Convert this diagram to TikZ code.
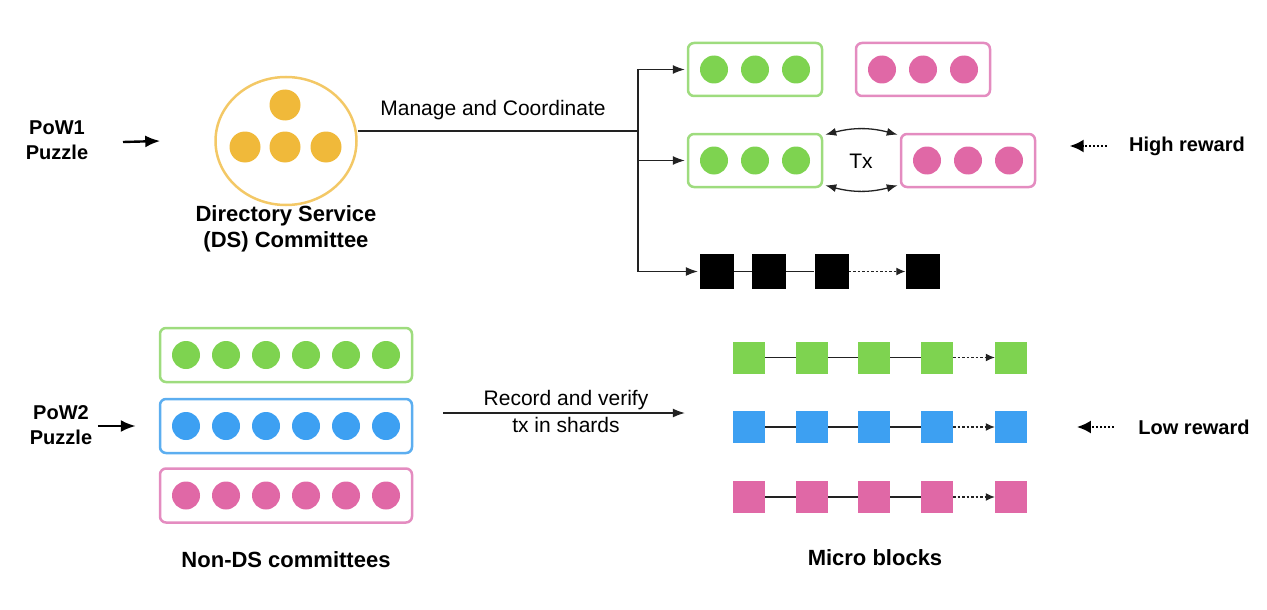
\documentclass[tikz,border=0pt]{standalone}
\usepackage{fontspec}
\setmainfont{Liberation Sans}
\usetikzlibrary{arrows.meta,calc,shapes.geometric}
\definecolor{cgreen}{HTML}{7ED350}
\definecolor{cgreenl}{HTML}{9EDC7E}
\definecolor{cpink}{HTML}{E068A6}
\definecolor{cpinkl}{HTML}{E48CC0}
\definecolor{cblue}{HTML}{3DA0F2}
\definecolor{cbluel}{HTML}{5CAEF0}
\definecolor{cyel}{HTML}{F0B93A}
\definecolor{cyell}{HTML}{F3C866}
\definecolor{cline}{HTML}{222222}
\begin{document}
\begin{tikzpicture}[x=1pt,y=-1pt,
  dot/.style={circle, minimum size=28pt, inner sep=0pt, fill=#1},
  bigdot/.style={circle, minimum size=31pt, inner sep=0pt, fill=cyel},
  cbox/.style={rounded corners=6pt, draw=#1, line width=2.5pt, minimum width=134pt, minimum height=53pt, inner sep=0pt},
  lbox/.style={rounded corners=6pt, draw=#1, line width=2.5pt, minimum width=252pt, minimum height=54pt, inner sep=0pt},
  blk/.style={minimum size=32pt, inner sep=0pt, fill=#1},
  bsq/.style={minimum width=34pt, minimum height=35pt, inner sep=0pt, fill=black},
  lbl/.style={font=\bfseries\fontsize{20}{25}\selectfont, align=center},
  blbl/.style={font=\bfseries\fontsize{22}{26}\selectfont, align=center},
  txt/.style={font=\fontsize{21}{27}\selectfont, align=center},
  arr/.style={-{Latex[length=12pt,width=9pt]}, line width=1.1pt, draw=cline},
  harr/.style={-{Latex[length=15pt,width=12pt]}, line width=2.4pt},
  link/.style={line width=1.2pt, draw=cline},
  darr/.style={-{Latex[length=9pt,width=8pt]}, line width=1.2pt, draw=cline, dash pattern=on 2.5pt off 2pt},
  rarr/.style={-{Latex[length=14pt,width=13pt]}, line width=2.2pt, dash pattern=on 2pt off 2pt},
  dbl/.style={{Latex[length=11pt,width=8pt]}-{Latex[length=11pt,width=8pt]}, line width=1.3pt, draw=cline}]
\useasboundingbox (0,0) rectangle (1267,610);

% ---- DS part ----
\node[lbl] (pow1) at (57,140) {PoW1\\Puzzle};
\node[ellipse, draw=cyell, line width=2.5pt, minimum width=141pt, minimum height=128pt] (ds) at (286,141) {};
\node[bigdot] (ds1) at (285,105) {};
\node[bigdot] (ds2) at (245,147) {};
\node[bigdot] (ds3) at (285,147) {};
\node[bigdot] (ds4) at (326,147) {};
\node[blbl] (dsl) at (286,229) {Directory Service\\(DS) Committee};
\coordinate (p1a) at (123,142);
\draw[harr] (p1a) -- ([xshift=-54pt]ds.west);

\node[cbox=cgreenl] (g1) at (755,69.5) {};
\node[cbox=cpinkl] (p1) at (923,69.5) {};
\node[cbox=cgreenl] (g2) at (755,160.5) {};
\node[cbox=cpinkl] (p2) at (968,160.5) {};
\foreach \i/\dx in {1/-41,2/0,3/41}{
  \node[dot=cgreen] (g1c\i) at ($(g1)+(\dx,0)$) {};
  \node[dot=cpink] (p1c\i) at ($(p1)+(\dx,0)$) {};
  \node[dot=cgreen] (g2c\i) at ($(g2)+(\dx,0)$) {};
  \node[dot=cpink] (p2c\i) at ($(p2)+(\dx,0)$) {};
}
\node[txt] (tx) at (861,161) {Tx};
\draw[dbl] ([xshift=2pt,yshift=-2pt]g2.north east) to[bend left=15] ([xshift=-2pt,yshift=-2pt]p2.north west);
\draw[dbl] ([xshift=2pt,yshift=3pt]g2.south east) to[bend right=15] ([xshift=-2pt,yshift=3pt]p2.south west);

\node[bsq] (b1) at (717,271.5) {};
\node[bsq] (b2) at (769,271.5) {};
\node[bsq] (b3) at (831.5,271.5) {};
\node[bsq] (b4) at (922.5,271.5) {};
\draw[link] (b1) -- (b2);
\draw[link] (b2) -- (b3);
\draw[darr] (b3) -- (b4);

\coordinate (jn) at (638,131);
\draw[link] ([yshift=10pt]ds.east) -- (jn);
\draw[link] (jn |- g1.west) -- (jn |- b1.west);
\draw[arr] (jn |- g1.west) -- ([xshift=-2pt]g1.west);
\draw[arr] (jn |- g2.west) -- ([xshift=-2pt]g2.west);
\draw[arr] (jn |- b1.west) -- ([xshift=-2pt]b1.west);
\node[txt, anchor=south] (mc) at (493,123) {Manage and Coordinate};

\node[lbl] (hr) at (1187,146) {High reward};
\draw[rarr] ([xshift=-19pt]hr.west) -- ++(-37,0);

% ---- Non-DS part ----
\node[lbox=cgreenl] (ng) at (286,355) {};
\node[lbox=cbluel] (nb) at (286,426) {};
\node[lbox=cpinkl] (np) at (286,495.5) {};
\foreach \i/\dx in {1/-100,2/-60,3/-20,4/20,5/60,6/100}{
  \node[dot=cgreen] (ngc\i) at ($(ng)+(\dx,0)$) {};
  \node[dot=cblue] (nbc\i) at ($(nb)+(\dx,0)$) {};
  \node[dot=cpink] (npc\i) at ($(np)+(\dx,0)$) {};
}
\node[lbl] (pow2) at (61,425) {PoW2\\Puzzle};
\draw[harr] ([xshift=-61pt]nb.west) -- ([xshift=-23pt]nb.west);
\node[blbl] (ndl) at (286,560) {Non-DS committees};

\foreach \r/\y/\c in {g/357.5/cgreen, b/427/cblue, p/497/cpink}{
  \node[blk=\c] (m\r1) at (749,\y) {};
  \node[blk=\c] (m\r2) at (812,\y) {};
  \node[blk=\c] (m\r3) at (874,\y) {};
  \node[blk=\c] (m\r4) at (937,\y) {};
  \node[blk=\c] (m\r5) at (1011,\y) {};
  \draw[link] (m\r1) -- (m\r2);
  \draw[link] (m\r2) -- (m\r3);
  \draw[link] (m\r3) -- (m\r4);
  \draw[darr] (m\r4) -- (m\r5);
}
\node[blbl] (mbl) at (875,558) {Micro blocks};

\node[txt] (rv) at (566,411) {Record and verify\\tx in shards};
\coordinate (rvA) at (443,413);
\draw[arr] (rvA) -- ([xshift=-48pt]mb1.west |- rvA);

\node[lbl] (lr) at (1194,427) {Low reward};
\draw[rarr] ([xshift=-21pt]lr.west) -- ++(-37,0);
\end{tikzpicture}
\end{document}
